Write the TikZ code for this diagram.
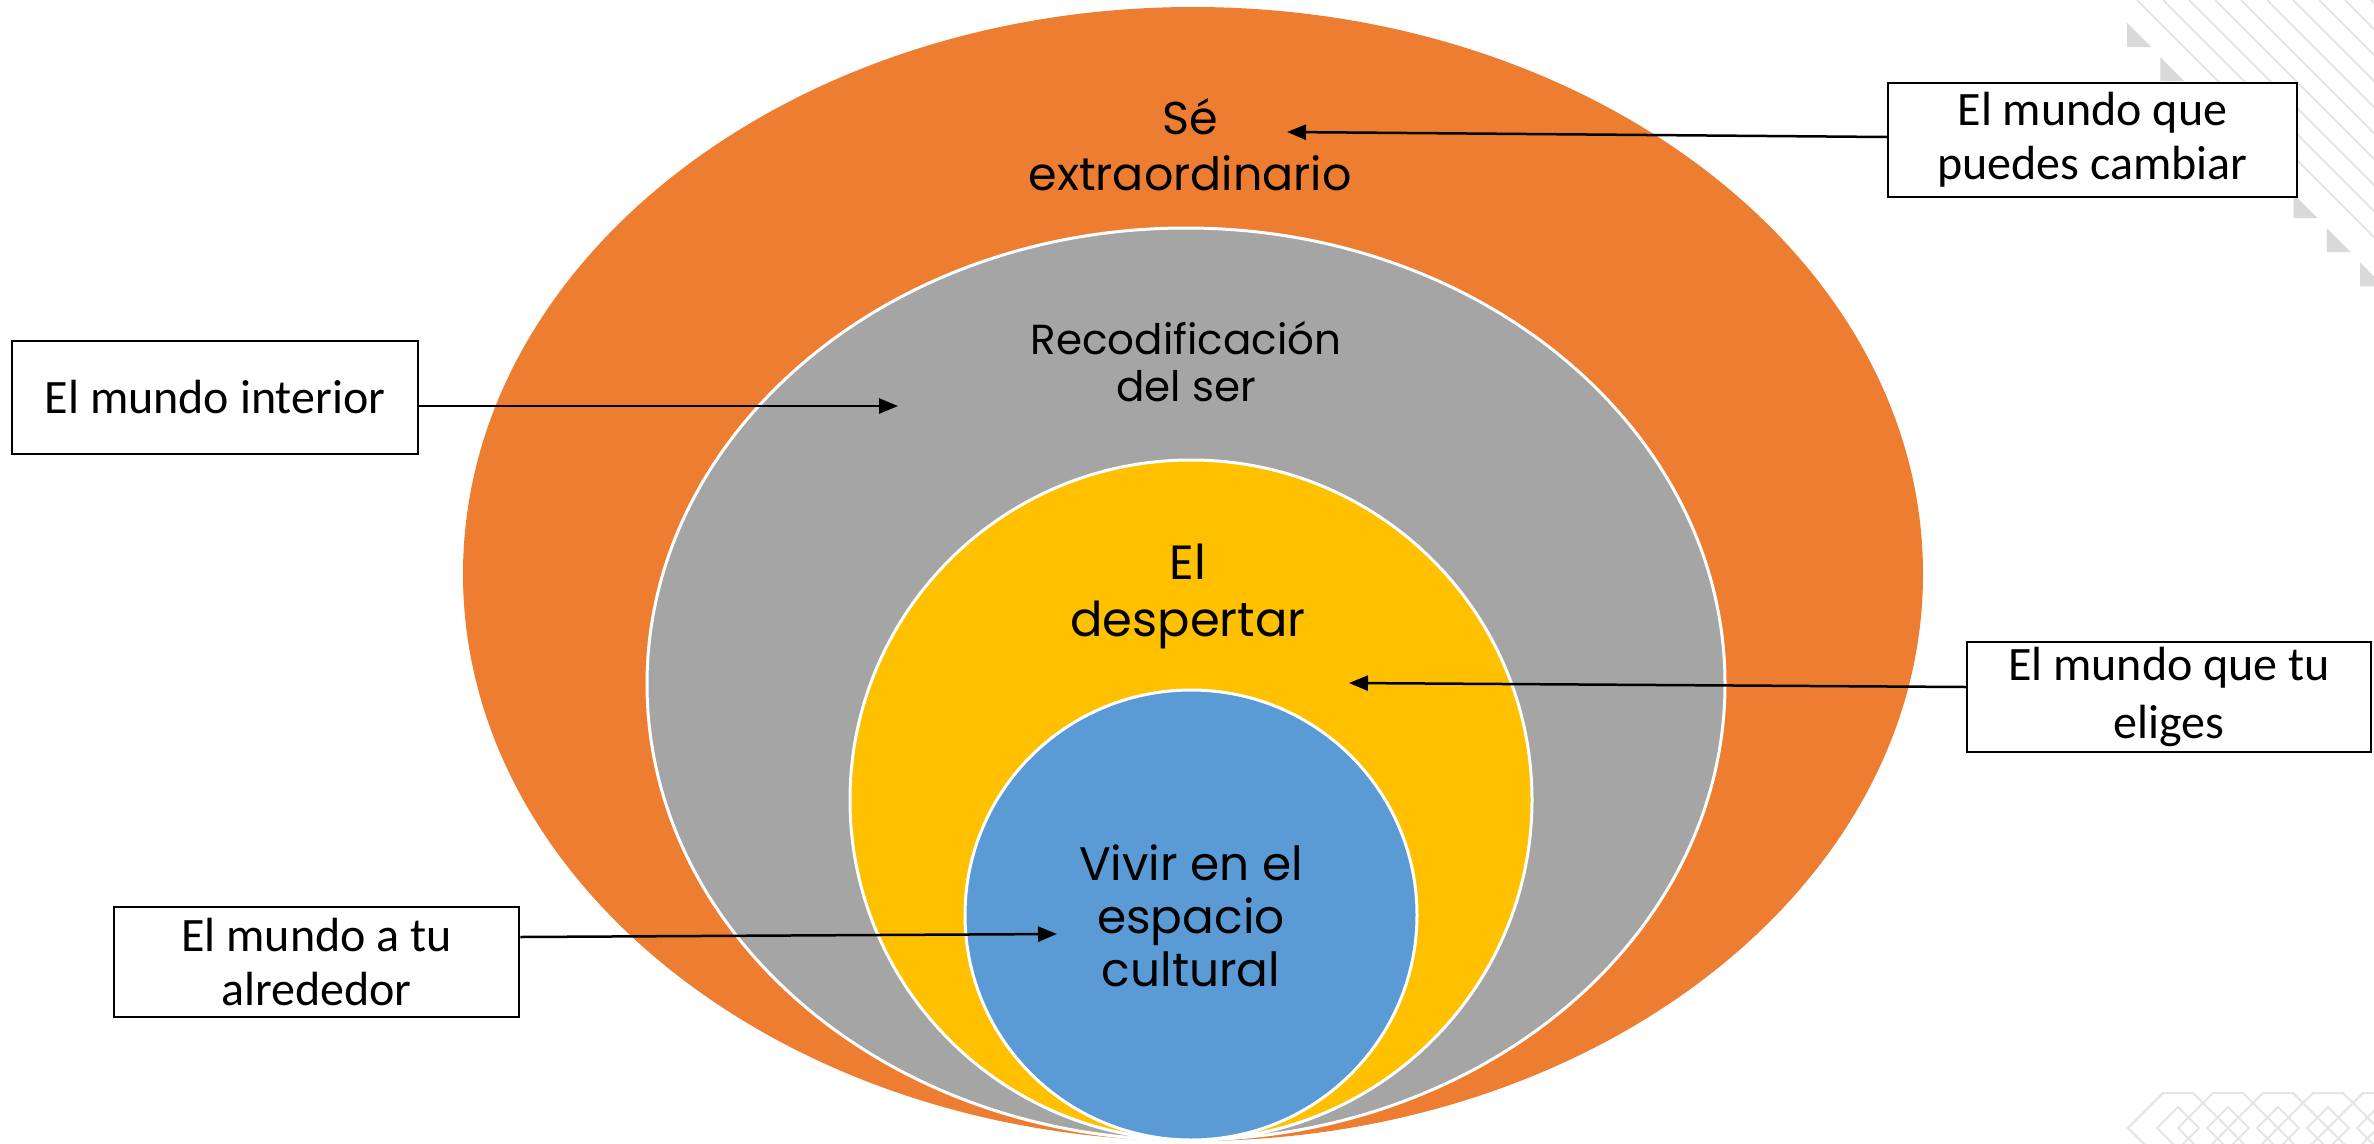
\documentclass[tikz,border=0pt]{standalone}
\usepackage{fontspec}
\setmainfont{Poppins}
\newfontfamily\boxfont{Carlito}
\usetikzlibrary{arrows.meta}
\definecolor{orng}{HTML}{ED7D31}
\definecolor{gry}{HTML}{A5A5A5}
\definecolor{yel}{HTML}{FFC000}
\definecolor{blu}{HTML}{5B9BD5}
\definecolor{deco}{HTML}{E4E4E4}
\definecolor{decotri}{HTML}{D9D9D9}
\begin{document}
\begin{tikzpicture}[x=1pt,y=-1pt,
  labelbox/.style={draw=black, line width=2.5pt, fill=white, inner sep=0pt, align=center,
    font=\boxfont\fontsize{48}{54}\selectfont},
  ring/.style={draw=white, line width=3pt},
  pointer/.style={line width=2.5pt, -{Triangle[length=19pt,width=15pt]}},
  ringtext/.style={align=center, inner sep=0pt, text=black},
  decoline/.style={draw=deco, line width=2pt}
]
\useasboundingbox (0,0) rectangle (2374,1143);
\begin{scope}
\clip (0,0) rectangle (2374,1143);
% decorative stripes, top right
\foreach \k in {0,...,10} {
  \draw[decoline] (2137+26*\k,0) -- ++(400,400);
}
\foreach \k in {0,...,7} {
  \fill[decotri] (2127+33.3*\k,23+34.2*\k) -- ++(0,24) -- ++(24,0) -- cycle;
}
% decorative lattice, bottom right
\foreach \k in {0,...,4} {
  \draw[decoline] (2128+50*\k,1128) -- (2163+50*\k,1093) -- (2193+50*\k,1093)
    -- (2228+50*\k,1128) -- (2193+50*\k,1163) -- (2163+50*\k,1163) -- cycle;
  \draw[decoline] (2157+50*\k,1128) -- (2178+50*\k,1107) -- (2199+50*\k,1128) -- (2178+50*\k,1149) -- cycle;
}
\end{scope}
% nested ellipses
\fill[orng] (1193,574) ellipse [x radius=730pt, y radius=567pt];
\filldraw[fill=gry, ring] (1186,684) ellipse [x radius=539pt, y radius=456pt];
\filldraw[fill=yel, ring] (1191,800) ellipse [x radius=341pt, y radius=340pt];
\filldraw[fill=blu, ring] (1191,915) ellipse [x radius=226pt, y radius=225pt];
% ellipse texts
\node[ringtext, font=\fontsize{46}{56}\selectfont] (t1) at (1190,145) {Sé\\extraordinario};
\node[ringtext, font=\fontsize{42}{47}\selectfont] (t2) at (1186,362) {Recodificación\\del ser};
\node[ringtext, font=\fontsize{48}{57}\selectfont] (t3) at (1188,596) {El\\despertar};
\node[ringtext, font=\fontsize{47}{53}\selectfont] (t4) at (1191,916) {Vivir en el\\espacio\\cultural};
% label boxes
\node[labelbox, minimum width=409pt, minimum height=114pt] (b1) at (2092.5,140) {El mundo que\\puedes cambiar};
\node[labelbox, minimum width=406pt, minimum height=113pt] (b2) at (215,397.5) {El mundo interior};
\node[labelbox, minimum width=404pt, minimum height=110pt, font=\boxfont\fontsize{48}{58}\selectfont] (b3) at (2169,697) {El mundo que tu\\eliges};
\node[labelbox, minimum width=405pt, minimum height=110pt] (b4) at (316.5,962) {El mundo a tu\\alrededor};
% arrow targets
\coordinate (p1) at (1287,132);
\coordinate (p2) at (898,406);
\coordinate (p3) at (1349,683);
\coordinate (p4) at (1057,934);
\draw[pointer] ([yshift=3pt]b1.west) -- (p1);
\draw[pointer] ([yshift=-8.5pt]b2.east) -- (p2);
\draw[pointer] ([yshift=10pt]b3.west) -- (p3);
\draw[pointer] ([yshift=25pt]b4.east) -- (p4);
\end{tikzpicture}
\end{document}
